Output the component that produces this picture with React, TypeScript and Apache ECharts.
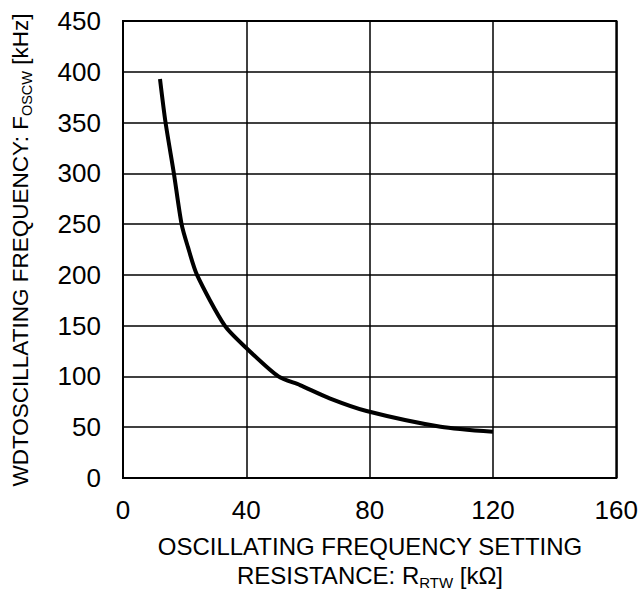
import React, { useEffect, useRef } from "react";
import * as echarts from "echarts";

const resistanceK = [12, 13.8, 16.5, 19, 21, 24, 33, 40, 50.4, 57.4, 67, 79, 103, 120];
const freqKHz = [393, 350, 300, 250, 228, 200, 150, 128, 100, 91.5, 78.5, 66, 50.5, 45.5];

const xTicks = { min: 0, max: 160, interval: 40 };
const yTicks = { min: 0, max: 450, interval: 50 };

const FONT = "'Liberation Sans', Arial, sans-serif";

export default function App() {
  const ref = useRef<HTMLDivElement>(null);
  useEffect(() => {
    if (!ref.current) return;
    const chart = echarts.init(ref.current, undefined, { renderer: "svg" });
    const data = resistanceK.map((x, i) => [x, freqKHz[i]]);
    const richX = {
      a: { fontSize: 24, lineHeight: 29, fontFamily: FONT, color: "#000" },
      s: { fontSize: 15, lineHeight: 21, verticalAlign: "bottom", fontFamily: FONT, color: "#000" },
    };
    const richY = {
      a: { fontSize: 22.5, lineHeight: 28, fontFamily: FONT, color: "#000" },
      s: { fontSize: 14.5, lineHeight: 20, verticalAlign: "bottom", fontFamily: FONT, color: "#000" },
    };
    chart.setOption({
      animation: false,
      backgroundColor: "#fff",
      textStyle: { fontFamily: FONT },
      grid: {
        left: 123,
        right: 24,
        top: 21,
        bottom: 114,
        show: true,
        borderColor: "#000",
        borderWidth: 2,
        backgroundColor: "transparent",
        z: 5,
      },
      xAxis: {
        type: "value",
        min: xTicks.min,
        max: xTicks.max,
        interval: xTicks.interval,
        axisLine: { show: false },
        axisTick: { show: false },
        axisLabel: { color: "#000", fontSize: 26, fontFamily: FONT, margin: 19 },
        splitLine: { show: true, lineStyle: { color: "#000", width: 1.5 } },
      },
      yAxis: {
        type: "value",
        min: yTicks.min,
        max: yTicks.max,
        interval: yTicks.interval,
        axisLine: { show: false },
        axisTick: { show: false },
        axisLabel: { color: "#000", fontSize: 26, fontFamily: FONT, margin: 22 },
        splitLine: { show: true, lineStyle: { color: "#000", width: 1.5 } },
      },
      graphic: [
        {
          type: "text",
          x: 370,
          y: 561,
          style: {
            text: "{a|OSCILLATING FREQUENCY SETTING}\n{a|RESISTANCE: R}{s|RTW}{a| [kΩ]}",
            align: "center",
            verticalAlign: "middle",
            fill: "#000",
            fontFamily: FONT,
            rich: richX,
          },
        },
        {
          type: "text",
          x: 20,
          y: 250,
          rotation: Math.PI / 2,
          style: {
            text: "{a|WDTOSCILLATING FREQUENCY: F}{s|OSCW}{a| [kHz]}",
            align: "center",
            verticalAlign: "middle",
            fill: "#000",
            fontFamily: FONT,
            rich: richY,
          },
        },
      ],
      series: [
        {
          type: "line",
          data,
          symbol: "none",
          smooth: 0.25,
          lineStyle: { color: "#000", width: 4 },
          z: 10,
        },
      ],
    });
    return () => chart.dispose();
  }, []);
  return (
    <div
      ref={ref}
      style={{ position: "absolute", left: 0, top: 0, width: 641, height: 592 }}
    />
  );
}
